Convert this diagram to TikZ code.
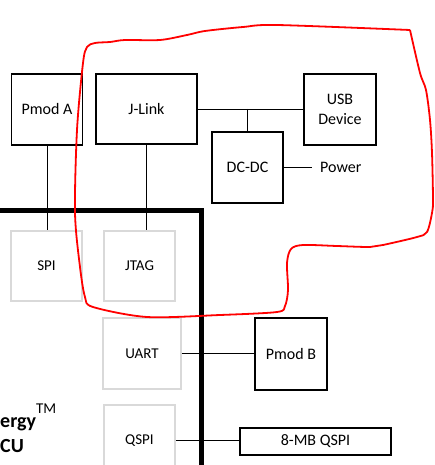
\documentclass[tikz,border=0pt]{standalone}
\usepackage{fontspec}
\setmainfont{Carlito}
\usetikzlibrary{calc}

\begin{document}
\begin{tikzpicture}[x = 1pt, y = -1pt,
  blk/.style = {draw, line width = 1.8pt, inner sep = 0pt, minimum width = 71pt,
    minimum height = 71pt, align = center, font = \fontsize{16}{19.5}\selectfont},
  port/.style = {draw = black!15, line width = 1.8pt, inner sep = 0pt, minimum width = 71pt,
    minimum height = 70pt, font = \fontsize{15}{18}\selectfont},
  wire/.style = {line width = 0.9pt},
  mcutext/.style = {inner sep = 0pt, anchor = base west, font = \fontsize{20}{24}\selectfont\bfseries}]
\useasboundingbox (0, 0) rectangle (434, 465);
\clip (0, 0) rectangle (434, 465);
% outside the MCU
\node[blk] (pmoda) at (47, 109.5) {Pmod A};
\node[blk, minimum width = 101pt, minimum height = 70pt] (jlink) at (146.5, 109) {J-Link};
\node[blk, minimum width = 72pt] (usb) at (340, 109.5) {USB\\Device};
\node[blk] (dcdc) at (247.5, 167.5) {DC-DC};
\node[inner ysep = 0pt, inner xsep = 8pt, anchor = west, font = \fontsize{16}{19}\selectfont] (power) at (312, 167) {Power};
\node[blk, minimum width = 72pt, minimum height = 72pt] (pmodb) at (291, 354) {Pmod B};
\node[blk, minimum width = 151pt, minimum height = 27pt] (flash) at (315.5, 441.5) {8-MB QSPI};
% MCU border and ports
\draw[line width = 4.7pt] (-10, 210.5) -- (201.7, 210.5) -- (201.7, 480);
\node[port] (spi) at (46.5, 266) {SPI};
\node[port] (jtag) at (139.5, 266) {JTAG};
\node[port, minimum width = 78pt, minimum height = 71pt] (uart) at (142, 353.5) {UART};
\node[port, minimum height = 71pt] (qspi) at (139.5, 440.5) {QSPI};
\node[mcutext] (mcuname) at (0, 427) {ergy\raisebox{14pt}{\fontsize{15}{18}\selectfont\mdseries TM}};
\node[mcutext] (mcuword) at (0, 452) {CU};
% connections
\coordinate (tap) at ($(dcdc.north |- jlink.east)$);
\draw[wire] (pmoda.south) -- (pmoda.south |- spi.north);
\draw[wire] (jlink.south) -- (jlink.south |- jtag.north);
\draw[wire] (jlink.east) -- (usb.west |- jlink.east);
\draw[wire] (tap) -- (dcdc.north);
\draw[wire] (dcdc.east) -- (dcdc.east -| power.west);
\draw[wire] (uart.east) -- (uart.east -| pmodb.west);
\draw[wire] (qspi.east) -- (qspi.east -| flash.west);
% hand drawn outline, starting at its one sharp corner
\draw[red, line width = 1.8pt, line join = round] plot[smooth, tension = 0.5] coordinates {
  (410, 30) (420, 73) (426, 90) (430, 120) (432, 153) (433, 200) (432, 213)
  (427, 232) (417, 237) (383, 245) (370, 247) (337, 246) (303, 245) (291, 249)
  (287, 263) (288, 290) (285, 306) (277, 312) (220, 315) (147, 317) (93, 307)
  (85, 297) (80, 267) (75, 213) (77, 130) (83, 63) (87, 47) (95, 43) (110, 42)
  (125, 40) (160, 40) (187, 35) (205, 31) (243, 27) (277, 25) (410, 30)};
\end{tikzpicture}
\end{document}
